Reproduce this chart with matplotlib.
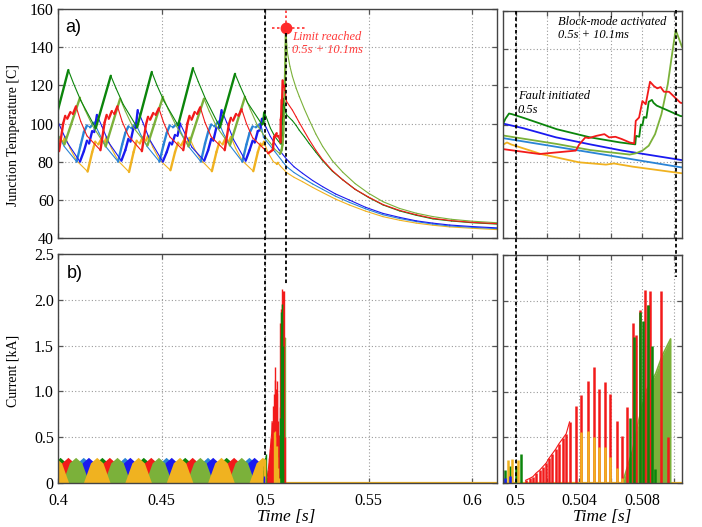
import numpy as np
import matplotlib
matplotlib.use("Agg")
import matplotlib.pyplot as plt
from matplotlib.collections import LineCollection
from matplotlib.lines import Line2D
from matplotlib.transforms import blended_transform_factory

plt.rcParams['font.family'] = ['Liberation Serif', 'DejaVu Serif']

# ---------------- junction temperature [C] ----------------
dg_t = [0.3978, 0.4050, 0.4075, 0.4110, 0.4182, 0.4255, 0.4280, 0.4315, 0.4382, 0.4453,
        0.4478, 0.4513, 0.4580, 0.4652, 0.4677, 0.4712, 0.4782, 0.4855, 0.4880, 0.4915,
        0.4985, 0.4992, 0.49935, 0.49958, 0.49975,
        0.5005, 0.5026, 0.5047, 0.5066, 0.50755, 0.5076, 0.5078, 0.5079, 0.5080, 0.5081,
        0.50825, 0.5084, 0.5086, 0.5087, 0.5089, 0.5104, 0.5132, 0.5150, 0.5165, 0.5190,
        0.5213, 0.5245, 0.5278, 0.5325, 0.5375, 0.5435, 0.5499, 0.5570, 0.5649, 0.5730,
        0.5811, 0.5900, 0.6000, 0.6120]
dg_T = [98, 128, 121, 112, 97.5, 125, 118.5, 110, 98, 127,
        120, 111.5, 99, 129, 122, 113, 98, 126, 119.5, 111,
        99.5, 100.2, 103, 105.8, 105.5,
        103.5, 97.5, 93.2, 90.5, 89.5, 94, 93.5, 100, 99.5, 104,
        103.5, 112, 113, 111.5, 110, 104.5, 101.5, 99, 96.5, 93,
        89.5, 85, 80.5, 75, 70.5, 65.5, 61.3, 57.3, 54.2, 51.9,
        50, 48.9, 48, 47.3]

lg_t = [0.3906, 0.3931, 0.3966, 0.4031, 0.4106, 0.4131, 0.4166, 0.4230, 0.4300, 0.4325,
        0.4360, 0.4432, 0.4507, 0.4532, 0.4567, 0.4630, 0.4705, 0.4730, 0.4765, 0.4830,
        0.4903, 0.4928, 0.4963, 0.4992, 0.5026, 0.5047,
        0.5072, 0.5076, 0.5080, 0.5084, 0.5088, 0.5092, 0.5096, 0.5099, 0.5101, 0.5105,
        0.5108, 0.5120, 0.5132, 0.5150, 0.5165, 0.5190, 0.5213, 0.5245, 0.5278, 0.5325,
        0.5375, 0.5435, 0.5499, 0.5570, 0.5649, 0.5730, 0.5811, 0.5900, 0.6000, 0.6120]
lg_T = [114, 107.5, 99.5, 89, 113.5, 107, 99, 88, 113, 106.5,
        98.5, 88.5, 114, 107.5, 99.5, 88, 113, 106.5, 98.5, 88.5,
        114, 107.5, 99, 94.2, 89.7, 86.5,
        84.1, 84.8, 86.2, 88.8, 94.9, 105.4, 121.2, 138.7, 150, 141,
        137, 130, 124.7, 118.5, 114.2, 107.5, 101.9, 94.5, 88, 80.5,
        74.5, 68.5, 63.5, 59, 55.5, 53, 51.2, 49.8, 48.8, 48.0]

rd_t = [0.3887, 0.3935, 0.4005, 0.4025, 0.4035, 0.4045, 0.4060, 0.4072, 0.4087, 0.4110, 0.4140,
        0.4205, 0.4225, 0.4235, 0.4245, 0.4260, 0.4272, 0.4287, 0.4310, 0.4340,
        0.4405, 0.4425, 0.4435, 0.4445, 0.4460, 0.4472, 0.4487, 0.4510, 0.4540,
        0.4605, 0.4625, 0.4635, 0.4645, 0.4660, 0.4672, 0.4687, 0.4710, 0.4740,
        0.4805, 0.4825, 0.4835, 0.4845, 0.4860, 0.4872, 0.4887, 0.4910, 0.4940,
        0.4992, 0.5015, 0.5038, 0.5040, 0.5044, 0.5046, 0.5051, 0.5056, 0.5059, 0.5063,
        0.5067, 0.5072, 0.50748, 0.50758, 0.50779, 0.5080, 0.50821, 0.50848, 0.50873, 0.50894,
        0.50915, 0.50936, 0.50968, 0.5104, 0.5132, 0.5150, 0.5165, 0.5190, 0.5213, 0.5245,
        0.5278, 0.5325, 0.5375, 0.5435, 0.5499, 0.5570, 0.5649, 0.5730, 0.5811, 0.5900,
        0.6000, 0.6120]
rd_T = [108, 95, 85.5, 100, 104, 102.5, 106, 105, 109, 101, 93.5,
        86, 100.5, 104.5, 102.5, 106.5, 105, 109, 101, 93.5,
        85.5, 99.5, 103.5, 102, 105.5, 104.5, 108, 100.5, 93,
        86, 100, 104, 102, 106, 105, 108.5, 100.5, 93,
        86, 99.5, 103, 101.5, 105, 104, 107.5, 100, 92.5,
        87.0, 84.4, 86.2, 89.3, 93.2, 92.8, 94, 94.9, 93.2, 93.5,
        92.3, 90.5, 90, 101.9, 103.7, 112.4, 110.7, 122.6, 120.3, 119.1,
        119.8, 117.3, 117.3, 111.5, 107, 103.5, 100.5, 95.8, 91.5, 86,
        81, 75.3, 70.5, 65.5, 61.5, 57.5, 54.5, 52.2, 50.3, 49.1,
        48.2, 47.5]

bl_t = [0.3988, 0.4012, 0.4045, 0.4106, 0.4125, 0.4140, 0.4150, 0.4165, 0.4175, 0.4188, 0.4212, 0.4245,
        0.4306, 0.4325, 0.4340, 0.4350, 0.4365, 0.4375, 0.4385, 0.4410, 0.4443,
        0.4506, 0.4525, 0.4540, 0.4550, 0.4565, 0.4577, 0.4590, 0.4614, 0.4647,
        0.4706, 0.4725, 0.4740, 0.4750, 0.4765, 0.4777, 0.4790, 0.4815, 0.4848,
        0.4906, 0.4925, 0.4940, 0.4950, 0.4965, 0.4975, 0.4985, 0.4992,
        0.5005, 0.50255, 0.5047, 0.50674, 0.5104, 0.5140, 0.5181, 0.5230, 0.5278, 0.5340,
        0.5407, 0.5485, 0.5569, 0.5650, 0.5730, 0.5810, 0.5892, 0.6000, 0.6120]
bl_T = [104, 98, 90, 80, 85.5, 91, 89.5, 96, 95.5, 104.5, 98.5, 90,
        80.5, 86, 92, 90.5, 98, 97.5, 107, 100.5, 91.5,
        80, 85, 90, 89, 94, 93.5, 100, 94.5, 87.5,
        80.5, 86, 92, 91, 98, 97.5, 107, 100.5, 91.5,
        80.5, 86, 91, 90, 96, 96.5, 102.5, 100.5,
        98, 93.2, 89.5, 86.2, 81.3, 77.3, 73.9, 70.1, 66.9, 63.1,
        59.9, 56.1, 52.9, 50.8, 49.0, 47.8, 46.8, 46.0, 45.3]

lb_t = [0.3975, 0.3998, 0.4030, 0.4090, 0.4110, 0.4125, 0.4140, 0.4155, 0.4175, 0.4198, 0.4230,
        0.4290, 0.4310, 0.4325, 0.4340, 0.4355, 0.4375, 0.4398, 0.4430,
        0.4490, 0.4510, 0.4525, 0.4540, 0.4555, 0.4575, 0.4598, 0.4630,
        0.4690, 0.4710, 0.4725, 0.4740, 0.4755, 0.4775, 0.4798, 0.4830,
        0.4890, 0.4910, 0.4925, 0.4940, 0.4955, 0.4978, 0.4985, 0.4992,
        0.5047, 0.5104, 0.5140, 0.5181, 0.5230, 0.5278, 0.5340, 0.5407, 0.5485, 0.5569,
        0.5650, 0.5730, 0.5810, 0.5892, 0.6000, 0.6120]
lb_T = [100, 94.5, 88, 80, 89, 95.5, 99, 98, 100.5, 95, 88,
        80, 89, 95, 98.5, 97.5, 100, 94.5, 88,
        80, 89, 95, 99, 98, 100, 94.5, 88,
        80, 89.5, 95.5, 99.5, 98.5, 101, 95, 88.5,
        80, 89, 95, 98.5, 98, 100, 97, 92.8,
        85.3, 77.4, 74.3, 71.5, 68.3, 65.5, 61.9, 58.7, 55.3, 52.2,
        50.2, 48.6, 47.3, 46.3, 45.6, 44.9]

or_t = [0.3943, 0.3965, 0.3980, 0.3995, 0.4010, 0.4025, 0.4035, 0.4058, 0.4090,
        0.4143, 0.4165, 0.4180, 0.4195, 0.4210, 0.4225, 0.4235, 0.4258, 0.4290,
        0.4343, 0.4365, 0.4380, 0.4395, 0.4410, 0.4425, 0.4435, 0.4458, 0.4490,
        0.4543, 0.4565, 0.4580, 0.4595, 0.4610, 0.4625, 0.4635, 0.4658, 0.4690,
        0.4743, 0.4765, 0.4780, 0.4795, 0.4810, 0.4825, 0.4835, 0.4858, 0.4890,
        0.4943, 0.4965, 0.4978, 0.4985, 0.4992, 0.49945, 0.4997, 0.5016,
        0.5040, 0.5057, 0.5062, 0.5074, 0.5104, 0.5140, 0.5181, 0.5230, 0.5278, 0.5340,
        0.5407, 0.5485, 0.5569, 0.5650, 0.5730, 0.5810, 0.5892, 0.6000, 0.6120]
or_T = [75, 85, 90.5, 89, 92, 90.5, 93, 87, 80.5,
        74.8, 85, 90.5, 89, 92, 90, 93, 87, 80.5,
        74.6, 85, 91, 89.5, 93, 91, 93.5, 87.5, 81,
        75.5, 85, 90, 88.5, 91.5, 90, 92.5, 87, 81,
        75, 85, 90.5, 89, 92.5, 90.5, 93, 87, 80.5,
        75, 85, 89.5, 88.5, 89.3, 90.5, 89.5, 84.4,
        80, 78.8, 79.4, 77.7, 74.3, 71.8, 69.5, 66.5, 63.8, 60.4,
        57.3, 54.1, 51.2, 49.3, 47.8, 46.7, 45.8, 45.1, 44.4]

# ---------------- device current [kA] ----------------
# normal operation: current envelope of each device
dg_it = [0.3945, 0.3980, 0.4010, 0.4040, 0.4075,
         0.4147, 0.4182, 0.4212, 0.4242, 0.4277,
         0.4347, 0.4382, 0.4412, 0.4442, 0.4477,
         0.4547, 0.4582, 0.4612, 0.4642, 0.4677,
         0.4747, 0.4782, 0.4812, 0.4842, 0.4877,
         0.4947, 0.4982, 0.5004, 0.5004]
dg_i = [0, 0.22, 0.28, 0.22, 0] * 5 + [0, 0.22, 0.30, 0]
rd_it = [0.3983, 0.4018, 0.4048, 0.4078, 0.4113,
         0.4183, 0.4218, 0.4248, 0.4278, 0.4313,
         0.4383, 0.4418, 0.4448, 0.4478, 0.4513,
         0.4583, 0.4618, 0.4648, 0.4678, 0.4713,
         0.4783, 0.4818, 0.4848, 0.4878, 0.4913]
rd_i = [0, 0.22, 0.28, 0.22, 0] * 5
lg_it = [0.4020, 0.4055, 0.4085, 0.4115, 0.4150,
         0.4220, 0.4255, 0.4285, 0.4315, 0.4350,
         0.4420, 0.4455, 0.4485, 0.4515, 0.4550,
         0.4620, 0.4655, 0.4685, 0.4715, 0.4750,
         0.4820, 0.4855, 0.4885, 0.4915, 0.4950]
lg_i = [0, 0.22, 0.28, 0.22, 0] * 5
lb_it = [0.3857, 0.3892, 0.3922, 0.3952, 0.3987,
         0.4057, 0.4092, 0.4122, 0.4152, 0.4187,
         0.4257, 0.4292, 0.4322, 0.4352, 0.4387,
         0.4457, 0.4492, 0.4522, 0.4552, 0.4587,
         0.4657, 0.4692, 0.4722, 0.4752, 0.4787,
         0.4857, 0.4892, 0.4922, 0.4952, 0.4987]
lb_i = [0, 0.22, 0.28, 0.22, 0] * 6
bl_it = [0.3882, 0.3917, 0.3947, 0.3977, 0.4012,
         0.4082, 0.4117, 0.4147, 0.4177, 0.4212,
         0.4282, 0.4317, 0.4347, 0.4377, 0.4412,
         0.4482, 0.4517, 0.4547, 0.4577, 0.4612,
         0.4682, 0.4717, 0.4747, 0.4777, 0.4812,
         0.4882, 0.4917, 0.4947, 0.4977, 0.5004, 0.5004]
bl_i = [0, 0.22, 0.28, 0.22, 0] * 5 + [0, 0.22, 0.28, 0.22, 0.03, 0]
or_it = [0.3922, 0.3957, 0.3987, 0.4017, 0.4052,
         0.4122, 0.4157, 0.4187, 0.4217, 0.4252,
         0.4322, 0.4357, 0.4387, 0.4417, 0.4452,
         0.4522, 0.4557, 0.4587, 0.4617, 0.4652,
         0.4722, 0.4757, 0.4787, 0.4817, 0.4852,
         0.4922, 0.4957, 0.4987, 0.5004, 0.5004]
or_i = [0, 0.22, 0.28, 0.22, 0] * 5 + [0, 0.22, 0.28, 0.25, 0]

# individual switching pulses around and after the fault
dg_pt = [0.49931, 0.49962, 0.50000, 0.50036, 0.50724, 0.50749, 0.50783, 0.50804, 0.50838, 0.50863, 0.50880]
dg_p = [0.14, 0.19, 0.19, 0.32, 0.71, 1.60, 1.87, 1.78, 1.95, 1.50, 0.15]
or_pt = [0.49952, 0.49979, 0.50015, 0.50414, 0.50456, 0.50494, 0.50525, 0.50561, 0.50598, 0.50638, 0.50670]
or_p = [0.25, 0.26, 0.25, 0.56, 0.57, 0.50, 0.40, 0.40, 0.28, 0.16, 0.05]
bl_pt = [0.49931, 0.49966]
bl_p = [0.05, 0.08]
rd_pt = [0.50063, 0.50088, 0.50109, 0.50130, 0.50151, 0.50172, 0.50193, 0.50210, 0.50231, 0.50252,
         0.50273, 0.50298, 0.50319, 0.50340, 0.50382, 0.50414, 0.50456, 0.50494, 0.50525, 0.50561,
         0.50598, 0.50638, 0.50670, 0.50703, 0.50740, 0.50757, 0.50782, 0.50815, 0.50833, 0.50851,
         0.50920, 0.50960]
rd_p = [0.03, 0.05, 0.07, 0.11, 0.14, 0.18, 0.22, 0.27, 0.32, 0.37,
        0.43, 0.49, 0.54, 0.67, 0.84, 0.97, 1.12, 1.27, 1.03, 1.11,
        0.98, 0.68, 0.52, 0.83, 1.75, 1.62, 1.90, 2.12, 1.95, 2.10,
        2.10, 0.50]
lg_ft = [0.50674, 0.50737, 0.50779, 0.50821, 0.50884, 0.50926, 0.50978, 0.50978]
lg_f = [0, 0.35, 0.70, 1.00, 1.20, 1.40, 1.58, 0]
or_zero_t = [0.3900, 0.6200]
or_zero = [0, 0]

t_fault = 0.5
t_limit = 0.5101
T_limit = 150

C_DG, C_LG, C_RD = '#0b850b', '#7bb13a', '#f21a1a'
C_BL, C_LB, C_OR = '#1a1af0', '#2a84d6', '#f0b220'
temp_series = [(or_t, or_T, C_OR), (lb_t, lb_T, C_LB), (bl_t, bl_T, C_BL),
               (lg_t, lg_T, C_LG), (dg_t, dg_T, C_DG), (rd_t, rd_T, C_RD)]
hump_series = [(lb_it, lb_i, C_LB), (bl_it, bl_i, C_BL), (dg_it, dg_i, C_DG),
               (rd_it, rd_i, C_RD), (lg_it, lg_i, C_LG), (or_it, or_i, C_OR)]

W, H = 702, 527
fig = plt.figure(figsize=(W / 100, H / 100), dpi=100)


def box(l, t, r, b):
    return [l / W, 1 - b / H, (r - l) / W, (b - t) / H]


ax_tl = fig.add_axes(box(58, 9, 497, 238))
ax_bl = fig.add_axes(box(58, 254, 497, 483))
ax_tr = fig.add_axes(box(503, 11, 682, 238))
ax_br = fig.add_axes(box(503, 255, 682, 483))

for ax in (ax_tl, ax_bl, ax_tr, ax_br):
    for s in ax.spines.values():
        s.set_color('#444444')
        s.set_linewidth(1.0)
    ax.tick_params(direction='in', top=True, right=True, length=3.5, width=0.9,
                   color='#555555', labelsize=11.5, pad=3)
    ax.tick_params(axis='x', pad=7)
    ax.grid(True, color='#9a9a9a', linestyle=(0, (1, 2)), linewidth=0.8)
    ax.set_axisbelow(True)

# ---- temperature, full window ----
for t, T, c in temp_series:
    pts = np.column_stack([t, T])
    segs = np.stack([pts[:-1], pts[1:]], axis=1)
    lw = np.where(np.diff(T) > 0, 1.7, 0.8)
    ax_tl.add_collection(LineCollection(segs, colors=c, linewidths=lw, capstyle='round'))
ax_tl.set_xlim(0.4, 0.612)
ax_tl.set_ylim(40, 160)
ax_tl.set_xticks([0.4, 0.45, 0.5, 0.55, 0.6])
ax_tl.set_xticklabels([])
ax_tl.set_yticks([40, 60, 80, 100, 120, 140, 160])
ax_tl.set_ylabel('Junction Temperature [C]', fontsize=10)
ax_tl.yaxis.set_label_coords(-0.087, 0.45)

ax_tl.plot([t_limit, t_limit], [T_limit, 160], color='#ff3030', ls=(0, (1.5, 1.5)), lw=1.2)
ax_tl.plot([0.5032, 0.5193], [T_limit, T_limit], color='#ff3030', ls=(0, (1.5, 1.5)), lw=1.2)
ax_tl.plot([t_limit], [T_limit], 'o', color='#ff2a2a', ms=7.5, zorder=6)
ax_tl.text(0.5132, 148.5, 'Limit reached\n0.5s + 10.1ms', color='#ff3a3a', fontsize=9,
           style='italic', ha='left', va='top', linespacing=1.15)
ax_tl.text(0.016, 0.955, 'a)', transform=ax_tl.transAxes, fontsize=13,
           family='Liberation Sans', ha='left', va='top')

# ---- temperature, zoom around the fault ----
for t, T, c in temp_series:
    ax_tr.plot(t, T, color=c, lw=1.3)
ax_tr.set_xlim(0.4992, 0.5105)
ax_tr.set_ylim(40, 160)
ax_tr.set_xticks([0.5, 0.502, 0.504, 0.506, 0.508, 0.510])
ax_tr.set_xticklabels([])
ax_tr.set_yticks([40, 60, 80, 100, 120, 140, 160])
ax_tr.set_yticklabels([])
ax_tr.text(0.50265, 157.5, 'Block-mode activated\n0.5s + 10.1ms', fontsize=9,
           style='italic', ha='left', va='top', linespacing=1.15)
ax_tr.text(0.50013, 118, 'Fault initiated\n0.5s', fontsize=9,
           style='italic', ha='left', va='top', linespacing=1.15)

# ---- current ----
for ax, plw in ((ax_bl, 1.0), (ax_br, 1.8)):
    ax.plot(or_zero_t, or_zero, color=C_OR, lw=1.6, zorder=1)
    if ax is ax_bl:
        for t, i, c in hump_series:
            ax.fill_between(t, 0, i, color=c, lw=0)
    ax.fill_between(lg_ft, 0, lg_f, color=C_LG, lw=0)
    ax.plot(lg_ft, lg_f, color=C_LG, lw=1.2)
    ax.vlines(rd_pt, 0, rd_p, color=C_RD, lw=plw)
    ax.plot(rd_pt[:14], rd_p[:14], color=C_RD, lw=0.8)
    ax.vlines(dg_pt, 0, dg_p, color=C_DG, lw=plw)
    ax.vlines(or_pt, 0, or_p, color=C_OR, lw=plw)
    ax.vlines(bl_pt, 0, bl_p, color=C_BL, lw=plw)
    ax.set_ylim(0, 2.5)
    ax.set_yticks([0, 0.5, 1.0, 1.5, 2.0, 2.5])

ax_bl.set_xlim(0.4, 0.612)
ax_bl.set_xticks([0.4, 0.45, 0.5, 0.55, 0.6])
ax_bl.set_xticklabels(['0.4', '0.45', '0.5', '0.55', '0.6'])
ax_bl.set_yticklabels(['0', '0.5', '1.0', '1.5', '2.0', '2.5'])
ax_bl.set_ylabel('Current [kA]', fontsize=10)
ax_bl.yaxis.set_label_coords(-0.087, 0.489)
ax_bl.text(0.02, 0.952, 'b)', transform=ax_bl.transAxes, fontsize=13,
           family='Liberation Sans', ha='left', va='top')

ax_br.set_xlim(0.4992, 0.5105)
ax_br.set_xticks([0.5, 0.502, 0.504, 0.506, 0.508, 0.510])
ax_br.set_xticklabels(['0.5', '', '0.504', '', '0.508', ''])
ax_br.set_yticklabels([])

fig.text(286 / W, 1 - 517 / H, 'Time [s]', style='italic', fontsize=12.5, ha='center', va='center')
fig.text(602 / W, 1 - 517 / H, 'Time [s]', style='italic', fontsize=12.5, ha='center', va='center')


# event markers spanning both panels of each column
def event_line(ax, x, y_top_px, y_bot_px):
    tr = blended_transform_factory(ax.transData, fig.transFigure)
    fig.add_artist(Line2D([x, x], [1 - y_top_px / H, 1 - y_bot_px / H], transform=tr,
                          color='black', ls=(0, (2, 1.5)), lw=1.3, zorder=5))


event_line(ax_tl, t_fault, 9, 457)
event_line(ax_tl, t_limit, 33, 285)
event_line(ax_tr, t_fault, 11, 488)
event_line(ax_tr, t_limit, 10, 277)

fig.savefig('out.png', dpi=100, facecolor='white')
